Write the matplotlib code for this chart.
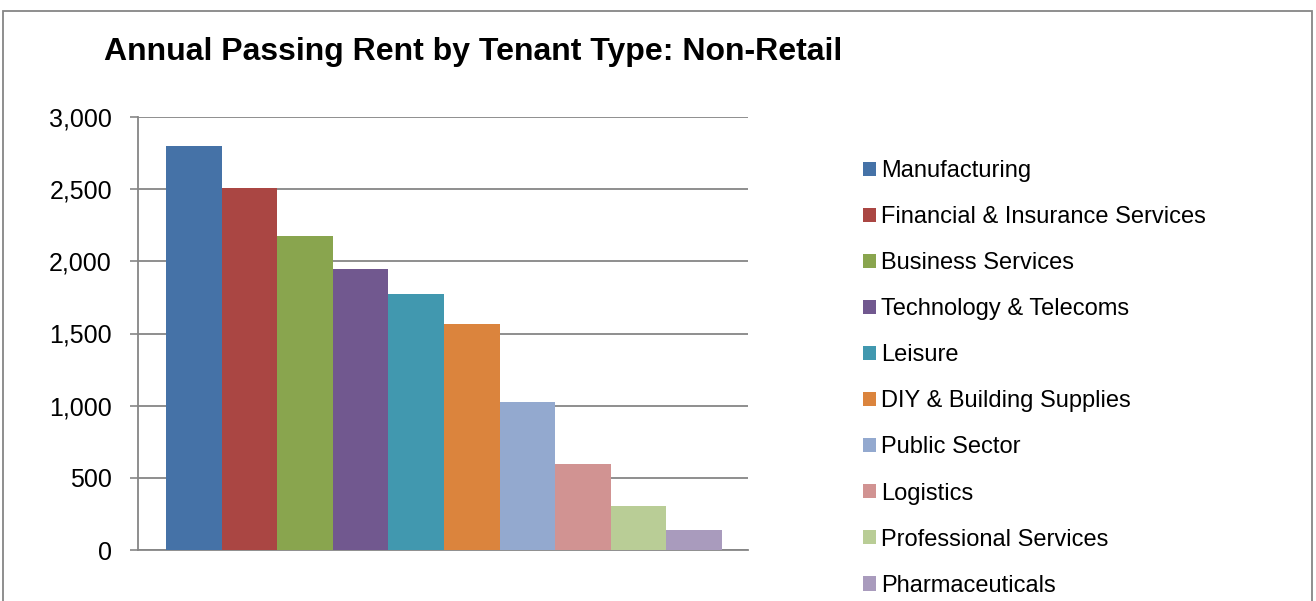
import numpy as np
import matplotlib
matplotlib.use("Agg")
import matplotlib.pyplot as plt
from matplotlib.patches import Rectangle
from matplotlib.ticker import FuncFormatter

categories = ["Manufacturing", "Financial & Insurance Services", "Business Services",
              "Technology & Telecoms", "Leisure", "DIY & Building Supplies",
              "Public Sector", "Logistics", "Professional Services", "Pharmaceuticals"]
values = [2800, 2510, 2175, 1948, 1773, 1565, 1025, 597, 305, 140]
colors = ["#4572A7", "#AA4643", "#89A54E", "#71588F", "#4198AF",
          "#DB843D", "#93A9CF", "#D19392", "#B9CD96", "#A99BBD"]
yticks = [0, 500, 1000, 1500, 2000, 2500, 3000]

plt.rcParams['font.family'] = ['Liberation Sans', 'DejaVu Sans']
grid_col = "#868686"

fig = plt.figure(figsize=(13.16, 6.01), dpi=100)
ax = fig.add_axes([138/1316, 51/601, 610/1316, 433/601])

x = np.arange(len(values))
for i, (v, c, lab) in enumerate(zip(values, colors, categories)):
    ax.bar(x[i], v, width=1.0, align='edge', color=c, label=lab, zorder=3)

ax.set_xlim(-0.504, 10.47)
ax.set_ylim(0, 3000)
ax.set_yticks(yticks)
ax.yaxis.set_major_formatter(FuncFormatter(lambda v, p: f"{int(v):,}"))
ax.set_xticks([])
ax.tick_params(axis='y', length=5.8, width=1.2, color=grid_col, labelsize=18, pad=13)
ax.yaxis.grid(True, color=grid_col, linewidth=1.3, zorder=0)
for s in ['top', 'right']:
    ax.spines[s].set_visible(False)
for s in ['left', 'bottom']:
    ax.spines[s].set_color(grid_col)
    ax.spines[s].set_linewidth(1.3)

fig.text(104/1316, 1 - 52/601, "Annual Passing Rent by Tenant Type: Non-Retail",
         fontsize=23, fontweight='bold', ha='left', va='center')

leg = fig.legend(loc='upper left', bbox_to_anchor=(863/1316, 1 - 160/601),
                 frameon=False, fontsize=17, handlelength=0.55, handleheight=0.55,
                 handletextpad=0.2, labelspacing=1.02, borderpad=0, borderaxespad=0)

fig.patches.append(Rectangle((3/1316, -0.1), 1309/1316, 1.1 - 11/601,
                             transform=fig.transFigure, fill=False,
                             edgecolor=grid_col, linewidth=1.3))

fig.savefig("out.png", dpi=100)
